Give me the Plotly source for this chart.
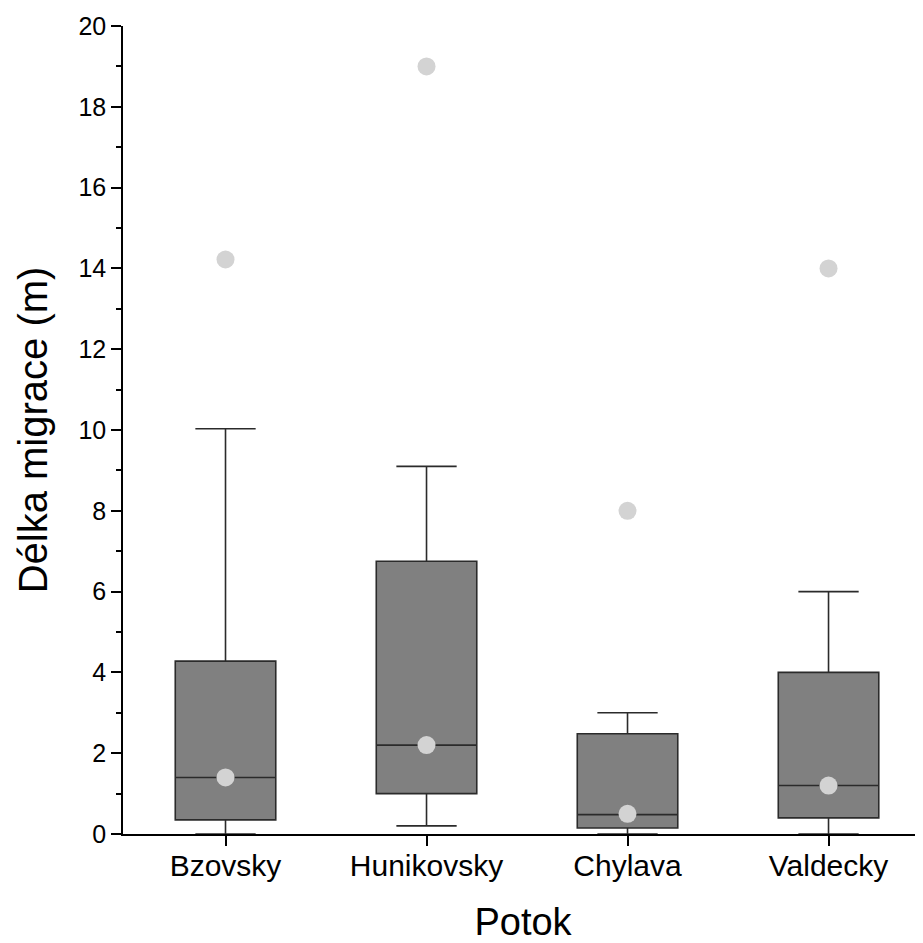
import plotly.graph_objects as go

categories = ["Bzovsky", "Hunikovsky", "Chylava", "Valdecky"]
q1 = [0.35, 1.0, 0.15, 0.4]
median = [1.4, 2.2, 0.48, 1.2]
q3 = [4.28, 6.75, 2.48, 4.0]
lower_whisker = [0.0, 0.2, 0.0, 0.0]
upper_whisker = [10.03, 9.1, 3.0, 6.0]
means = [1.4, 2.2, 0.5, 1.2]
outliers = [14.22, 19.0, 8.0, 14.0]

fig = go.Figure()
fig.add_trace(go.Box(
    x=categories, q1=q1, median=median, q3=q3,
    lowerfence=lower_whisker, upperfence=upper_whisker,
    width=0.5, whiskerwidth=0.6,
    fillcolor="#808080",
    line=dict(color="#2b2b2b", width=1.6),
    boxpoints=False, showlegend=False,
))
fig.add_trace(go.Scatter(
    x=categories, y=means, mode="markers",
    marker=dict(color="#d3d3d3", size=18, line=dict(width=0)),
    showlegend=False, cliponaxis=False,
))
fig.add_trace(go.Scatter(
    x=categories, y=outliers, mode="markers",
    marker=dict(color="#d3d3d3", size=18, line=dict(width=0)),
    showlegend=False, cliponaxis=False,
))

fig.update_layout(
    width=915, height=935,
    margin=dict(l=115, r=0, t=18, b=107),
    plot_bgcolor="white", paper_bgcolor="white",
    font=dict(family="Liberation Sans, Arial", color="black"),
)
fig.update_xaxes(
    range=[-0.51, 3.47], showgrid=False, zeroline=False,
    showline=True, linecolor="black", linewidth=1.5,
    ticks="outside", ticklen=10, tickwidth=1.5, tickcolor="black",
    tickfont=dict(size=30), ticklabelstandoff=-6,
    title=dict(text="Potok", font=dict(size=38), standoff=35),
)
fig.update_yaxes(
    range=[0, 20], showgrid=False, zeroline=False,
    showline=True, linecolor="black", linewidth=1.5,
    ticks="outside", ticklen=10, tickwidth=1.5, tickcolor="black",
    dtick=2, tickfont=dict(size=25),
    minor=dict(dtick=1, ticks="outside", ticklen=5, tickwidth=1.5, tickcolor="black"),
    title=dict(text="Délka migrace (m)", font=dict(size=40), standoff=18),
)

fig.write_html("out.html")
